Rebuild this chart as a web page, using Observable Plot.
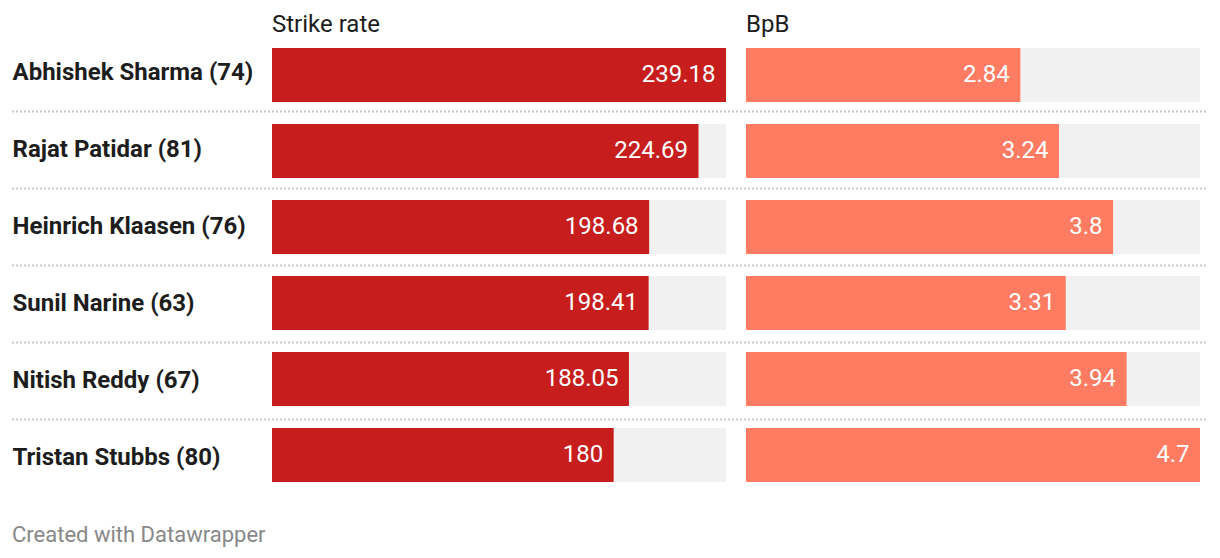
<!DOCTYPE html>
<html>
<head>
<meta charset="utf-8">
<script src="https://cdn.jsdelivr.net/npm/d3@7"></script>
<script src="https://cdn.jsdelivr.net/npm/@observablehq/plot@0.6"></script>
<style>
  html, body { margin: 0; padding: 0; background: #fff; }
  #root { position: relative; width: 1220px; height: 558px; font-family: Roboto, sans-serif; overflow: hidden; }
  .layer { position: absolute; top: 0; }
  .head { position: absolute; top: 10px; font-size: 24px; line-height: normal; color: #1d1d1d; }
  .foot { position: absolute; left: 12px; top: 522px; font-size: 22px; line-height: normal; color: #888888; }
  svg { overflow: visible; }
</style>
</head>
<body>
<div id="root"></div>
<script>
const players = ["Abhishek Sharma (74)", "Rajat Patidar (81)", "Heinrich Klaasen (76)", "Sunil Narine (63)", "Nitish Reddy (67)", "Tristan Stubbs (80)"];
const strikeRate = [239.18, 224.69, 198.68, 198.41, 188.05, 180];
const bpb = [2.84, 3.24, 3.8, 3.31, 3.94, 4.7];
const columnTitles = ["Strike rate", "BpB"];

const rows = players.map((p, i) => ({player: p, sr: strikeRate[i], bpb: bpb[i]}));
const H = 558, MT = 48, MB = 76, PAD = 0.2895;
const yOpts = {domain: players, padding: PAD, paddingOuter: 0, axis: null};
const root = document.getElementById("root");

// base layer: player names and dotted separators
const base = Plot.plot({
  width: 1220, height: H, marginTop: MT, marginBottom: MB, marginLeft: 12, marginRight: 12,
  x: {axis: null}, y: yOpts,
  style: {fontFamily: "Roboto, sans-serif", background: "transparent"},
  marks: [
    Plot.ruleY(rows.slice(0, -1), {y: "player", dy: 38, stroke: "#c9c9c9", strokeWidth: 2, strokeDasharray: "2,2"}),
    Plot.text(rows, {y: "player", text: "player", frameAnchor: "left", textAnchor: "start", dy: -1.5, fontSize: 24, fontWeight: "bold", fill: "#1d1d1d"})
  ]
});
base.classList.add("layer"); base.style.left = "0px";
root.appendChild(base);

function barPlot(key, color, left, title) {
  const max = d3.max(rows, d => d[key]);
  const fmt = v => String(v);
  const p = Plot.plot({
    width: 454, height: H, marginTop: MT, marginBottom: MB, marginLeft: 0, marginRight: 0,
    x: {domain: [0, max], axis: null}, y: yOpts,
    style: {fontFamily: "Roboto, sans-serif", background: "transparent"},
    marks: [
      Plot.barX(rows, {y: "player", x: () => max, fill: "#f1f1f1"}),
      Plot.barX(rows, {y: "player", x: key, fill: color}),
      Plot.text(rows, {y: "player", x: key, text: d => fmt(d[key]), textAnchor: "end", dx: -11, dy: -1, fill: "#ffffff", fontSize: 24})
    ]
  });
  p.classList.add("layer"); p.style.left = left + "px";
  root.appendChild(p);
  const h = document.createElement("div");
  h.className = "head"; h.style.left = left + "px"; h.textContent = title;
  root.appendChild(h);
}
barPlot("sr", "#c71e1d", 272, columnTitles[0]);
barPlot("bpb", "#ff7c62", 746, columnTitles[1]);

const foot = document.createElement("div");
foot.className = "foot"; foot.textContent = "Created with Datawrapper";
root.appendChild(foot);
</script>
</body>
</html>
